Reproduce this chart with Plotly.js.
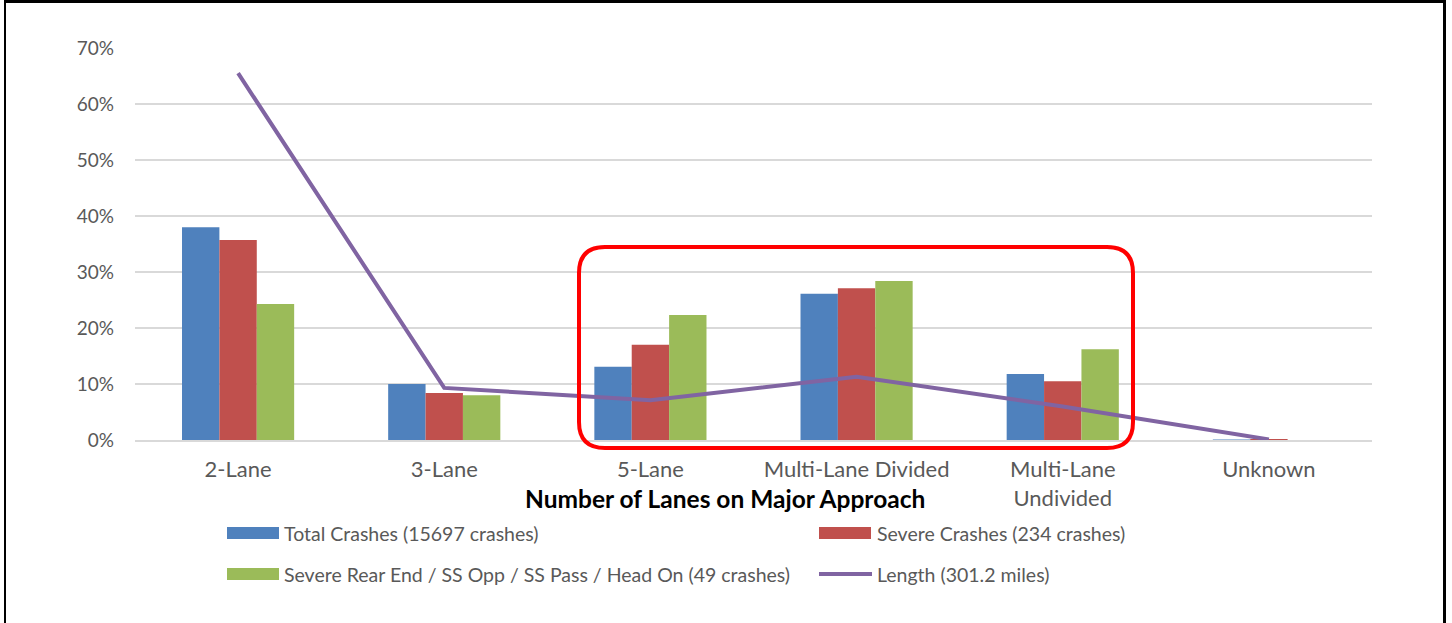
<!DOCTYPE html>
<html>
<head>
<meta charset="utf-8">
<script src="https://cdn.plot.ly/plotly-3.0.1.min.js"></script>
<style>
  html, body { margin: 0; padding: 0; background: #fff; }
  #wrap { position: relative; width: 1452px; height: 623px; overflow: hidden; }
  #chart { position: absolute; left: 0; top: 0; width: 1452px; height: 623px; }
  #frame { position: absolute; left: 4px; top: 0; width: 1437px; height: 640px;
           border-left: 2px solid #000; border-right: 3px solid #000; border-top: 3px solid #000;
           pointer-events: none; }
</style>
</head>
<body>
<div id="wrap">
  <div id="chart"></div>
  <div id="frame"></div>
</div>
<script>
const categories = ["2-Lane", "3-Lane", "5-Lane", "Multi-Lane Divided", "Multi-Lane<br>Undivided", "Unknown"];
const seriesNames = [
  "Total Crashes (15697 crashes)",
  "Severe Crashes (234 crashes)",
  "Severe Rear End / SS Opp / SS Pass / Head On (49 crashes)",
  "Length (301.2 miles)"
];
const totalCrashes  = [38.0, 10.0, 13.1, 26.1, 11.8, 0.1];
const severeCrashes = [35.7,  8.4, 17.0, 27.1, 10.5, 0.2];
const severeRearEnd = [24.3,  8.0, 22.3, 28.4, 16.2, 0.0];
const lengthMiles   = [65.5,  9.3,  7.1, 11.3,  6.0, 0.1];
const yTicks = [0, 10, 20, 30, 40, 50, 60, 70];

const colors = ["#4F81BD", "#C0504D", "#9BBB59", "#8064A2"];
const FONT = "Lato, 'Open Sans', sans-serif";

const traces = [
  { type: "bar", name: seriesNames[0], x: categories, y: totalCrashes, marker: { color: colors[0] } },
  { type: "bar", name: seriesNames[1], x: categories, y: severeCrashes, marker: { color: colors[1] } },
  { type: "bar", name: seriesNames[2], x: categories, y: severeRearEnd, marker: { color: colors[2] } },
  { type: "scatter", mode: "lines", name: seriesNames[3], x: categories, y: lengthMiles,
    line: { color: colors[3], width: 4 } }
];

// plot area mapping helpers (paper coords)
const L = 135, R = 1372, T = 48, B = 440;
const px = v => (v - L) / (R - L);
const py = v => (B - v) / (B - T);

// rounded red highlight
const x0 = px(579), x1 = px(1133), yt = py(247), yb = py(448);
const rx = 26 / (R - L), ry = 26 / (B - T);
const roundPath = `M ${x0+rx},${yt} L ${x1-rx},${yt} Q ${x1},${yt} ${x1},${yt-ry} L ${x1},${yb+ry} Q ${x1},${yb} ${x1-rx},${yb} L ${x0+rx},${yb} Q ${x0},${yb} ${x0},${yb+ry} L ${x0},${yt-ry} Q ${x0},${yt} ${x0+rx},${yt} Z`;

const shapes = [
  { type: "path", xref: "paper", yref: "paper", path: roundPath,
    line: { color: "#FF0000", width: 4 }, layer: "above" },
  // legend swatches
  { type: "rect", xref: "paper", yref: "paper", x0: px(227), x1: px(279), y0: py(539), y1: py(527),
    fillcolor: colors[0], line: { width: 0 } },
  { type: "rect", xref: "paper", yref: "paper", x0: px(819), x1: px(871), y0: py(539), y1: py(527),
    fillcolor: colors[1], line: { width: 0 } },
  { type: "rect", xref: "paper", yref: "paper", x0: px(227), x1: px(279), y0: py(580), y1: py(568),
    fillcolor: colors[2], line: { width: 0 } },
  { type: "line", xref: "paper", yref: "paper", x0: px(819), x1: px(872), y0: py(574), y1: py(574),
    line: { color: colors[3], width: 4 } }
];

const legendText = (txt, xPix, yPix) => ({
  text: txt, xref: "paper", yref: "paper", x: px(xPix), y: py(yPix),
  xanchor: "left", yanchor: "middle", showarrow: false,
  font: { family: FONT, size: 19.5, color: "#595959" }
});

const annotations = [
  { text: "<b>Number of Lanes on Major Approach</b>", xref: "paper", yref: "paper",
    x: px(725), y: py(498), xanchor: "center", yanchor: "middle", showarrow: false,
    font: { family: FONT, size: 24.5, color: "#000" } },
  legendText(seriesNames[0], 282, 533),
  legendText(seriesNames[1], 875, 533),
  legendText(seriesNames[2], 282, 574),
  legendText(seriesNames[3], 875, 574)
];

const layout = {
  width: 1452, height: 623,
  margin: { l: L, r: 1452 - R, t: T, b: 623 - B, pad: 0 },
  paper_bgcolor: "#fff", plot_bgcolor: "#fff",
  barmode: "group", bargap: 0.456, bargroupgap: 0,
  showlegend: false,
  font: { family: FONT, size: 18, color: "#595959" },
  xaxis: {
    type: "category", tickfont: { family: FONT, size: 22, color: "#595959" },
    showgrid: false, showline: true, linecolor: "#D9D9D9", linewidth: 2,
    ticks: "", ticklabelstandoff: 9, fixedrange: true
  },
  yaxis: {
    range: [0, 70], tickvals: yTicks, ticktext: yTicks.map(v => v + "%"),
    tickfont: { family: FONT, size: 19, color: "#595959" },
    showgrid: true, gridcolor: "#D9D9D9", gridwidth: 2,
    zeroline: false, ticks: "", ticklabelstandoff: 20, fixedrange: true
  },
  shapes: shapes,
  annotations: annotations
};

Plotly.newPlot("chart", traces, layout, { displayModeBar: false, staticPlot: true });
</script>
</body>
</html>
